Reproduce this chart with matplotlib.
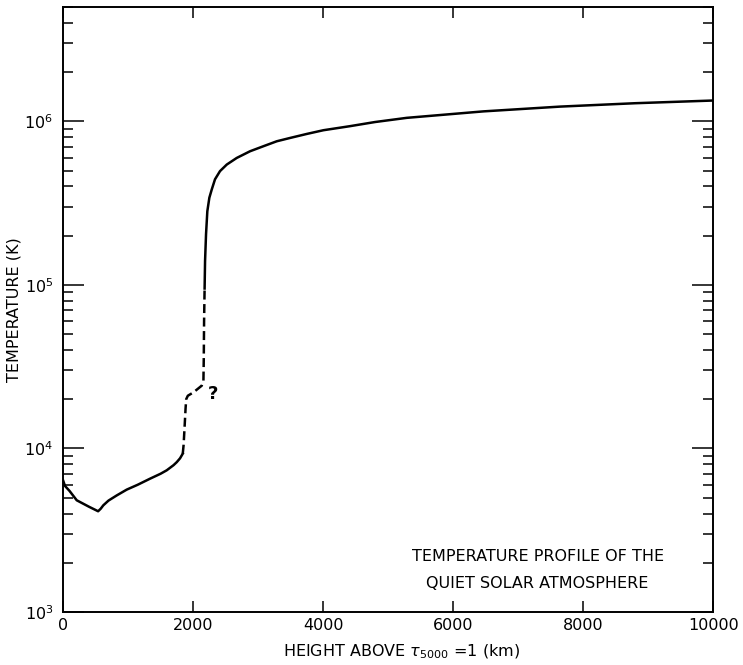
import matplotlib.pyplot as plt
from matplotlib.ticker import LogLocator, NullFormatter, FixedLocator

# Temperature vs height, quiet Sun (heights in km, temperatures in K)
# photosphere / chromosphere, solid
h_low = [0, 30, 100, 211, 400, 540, 580, 620, 700, 826, 980, 1150, 1338,
         1500, 1595, 1700, 1749, 1800, 1842]
t_low = [6400, 5900, 5500, 4820, 4400, 4130, 4280, 4490, 4800, 5160, 5600,
         6000, 6530, 7000, 7350, 7900, 8240, 8700, 9290]

# uncertain transition region, dashed
h_mid = [1842, 1855, 1870, 1885, 1895, 1920, 2005, 2134, 2160, 2165, 2170, 2178]
t_mid = [9290, 10500, 13500, 17500, 20000, 21000, 22000, 24200, 26000,
         35000, 60000, 95000]

# corona, solid
h_high = [2178, 2185, 2200, 2220, 2251, 2288, 2338, 2415, 2519, 2672, 2877,
          3082, 3288, 3492, 3749, 4005, 4415, 4800, 5288, 6466, 7646, 8800,
          10000]
t_high = [95000, 1.40e5, 2.04e5, 2.82e5, 3.41e5, 3.83e5, 4.42e5, 4.96e5,
          5.44e5, 5.97e5, 6.56e5, 7.04e5, 7.55e5, 7.91e5, 8.37e5, 8.82e5,
          9.34e5, 9.9e5, 1.05e6, 1.15e6, 1.23e6, 1.29e6, 1.34e6]

x_ticks = [0, 2000, 4000, 6000, 8000, 10000]
y_ticks = [1e3, 1e4, 1e5, 1e6]
y_labels = ['$10^3$', '$10^4$', '$10^5$', '$10^6$']

fig = plt.figure(figsize=(7.43, 6.65), dpi=100)
ax = fig.add_axes([0.0848, 0.0797, 0.875, 0.9098])

ax.plot(h_low, t_low, color='black', lw=1.8)
ax.plot(h_mid, t_mid, color='black', lw=1.8, linestyle=(0, (3.6, 1.8)))
ax.plot(h_high, t_high, color='black', lw=1.8)

ax.set_yscale('log')
ax.set_xlim(0, 10000)
ax.set_ylim(1e3, 5e6)

ax.xaxis.set_major_locator(FixedLocator(x_ticks))
ax.set_xticklabels([str(v) for v in x_ticks])
ax.yaxis.set_major_locator(FixedLocator(y_ticks))
ax.set_yticklabels(y_labels)
ax.yaxis.set_minor_locator(LogLocator(base=10, subs=range(2, 10)))
ax.yaxis.set_minor_formatter(NullFormatter())

ax.tick_params(axis='both', which='both', direction='in', top=True, right=True,
               labelsize=11.5, width=1.1)
ax.tick_params(axis='y', which='major', length=15, pad=7)
ax.tick_params(axis='y', which='minor', length=7)
ax.tick_params(axis='x', which='major', length=8, pad=4)
for s in ax.spines.values():
    s.set_linewidth(1.4)

ax.set_xlabel(r'HEIGHT ABOVE $\tau_{5000}$ =1 (km)', fontsize=11.5)
ax.xaxis.set_label_coords(0.52, -0.050)
ax.set_ylabel('TEMPERATURE (K)', fontsize=11.5)
ax.yaxis.set_label_coords(-0.064, 0.5)

ax.text(2300, 2.15e4, '?', fontsize=13, fontweight='bold', va='center', ha='center')

ax.text(7300, 2170, 'TEMPERATURE PROFILE OF THE', fontsize=11.5,
        ha='center', va='center')
ax.text(7300, 1500, 'QUIET SOLAR ATMOSPHERE', fontsize=11.5,
        ha='center', va='center')

fig.savefig('out.png', dpi=100)
